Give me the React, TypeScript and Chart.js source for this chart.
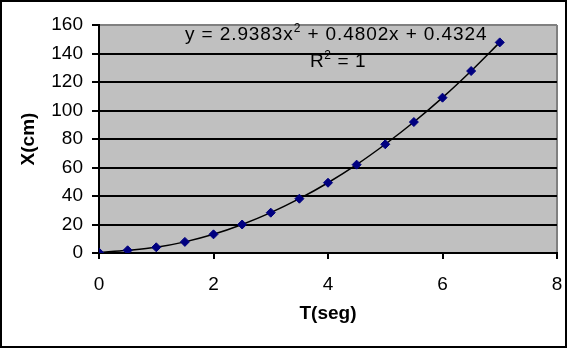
import React, { useEffect, useRef } from "react";
import { Chart, registerables } from "chart.js";

Chart.register(...registerables);

const tValues = [0, 0.5, 1, 1.5, 2, 2.5, 3, 3.5, 4, 4.5, 5, 5.5, 6, 6.5, 7];
const xValues = [0.4, 1.9, 4.0, 7.8, 13.1, 20.0, 28.3, 38.1, 49.3, 62.0, 76.3, 91.9, 109.0, 127.7, 147.8];
const xAxisTitle = "T(seg)";
const yAxisTitle = "X(cm)";
const eqParts = ["y = 2.9383x", "2", " + 0.4802x + 0.4324"];
const r2Parts = ["R", "2", " = 1"];

const FONT = "'Liberation Sans', Arial, sans-serif";

const decorPlugin = {
  id: "decor",
  beforeDraw(chart: any) {
    const { ctx, chartArea } = chart;
    ctx.save();
    ctx.fillStyle = "#ffffff";
    ctx.fillRect(0, 0, chart.width, chart.height);
    ctx.fillStyle = "#C0C0C0";
    ctx.fillRect(chartArea.left, chartArea.top, chartArea.right - chartArea.left, chartArea.bottom - chartArea.top);
    ctx.strokeStyle = "#808080";
    ctx.lineWidth = 2;
    ctx.beginPath();
    ctx.moveTo(chartArea.right, chartArea.top);
    ctx.lineTo(chartArea.right, chartArea.bottom);
    ctx.stroke();
    ctx.restore();
  },
  afterDraw(chart: any) {
    const { ctx } = chart;
    ctx.save();
    ctx.strokeStyle = "#000";
    ctx.lineWidth = 2;
    ctx.strokeRect(1, 1, chart.width - 2, chart.height - 2);

    const drawSup = (parts: string[], x: number, y: number, spacing: string) => {
      ctx.fillStyle = "#000";
      ctx.textBaseline = "alphabetic";
      ctx.textAlign = "left";
      (ctx as any).letterSpacing = spacing;
      ctx.font = `19px ${FONT}`;
      ctx.fillText(parts[0], x, y);
      let cx = x + ctx.measureText(parts[0]).width;
      ctx.font = `12px ${FONT}`;
      ctx.fillText(parts[1], cx, y - 8);
      cx += ctx.measureText(parts[1]).width;
      ctx.font = `19px ${FONT}`;
      ctx.fillText(parts[2], cx, y);
      (ctx as any).letterSpacing = "0px";
    };
    drawSup(eqParts, 185, 40, "0.9px");
    drawSup(r2Parts, 310, 67, "0.6px");
    ctx.restore();
  },
};

export default function App() {
  const ref = useRef<HTMLCanvasElement>(null);
  useEffect(() => {
    if (!ref.current) return;
    const chart = new Chart(ref.current, {
      type: "line",
      data: {
        datasets: [
          {
            data: tValues.map((t, i) => ({ x: t, y: xValues[i] })),
            borderColor: "#000000",
            borderWidth: 1.5,
            cubicInterpolationMode: "monotone",
            pointStyle: "rectRot",
            pointRadius: 4.5,
            pointBackgroundColor: "#000080",
            pointBorderColor: "#000080",
            pointBorderWidth: 1,
            fill: false,
          },
        ],
      },
      options: {
        responsive: false,
        animation: false,
        layout: { padding: { left: 0, top: 25, right: 0, bottom: 0 } },
        plugins: { legend: { display: false }, tooltip: { enabled: false } },
        scales: {
          x: {
            type: "linear",
            min: 0,
            max: 8,
            afterFit: (s: any) => { s.height = 95; s.paddingRight = 10; },
            ticks: { stepSize: 2, color: "#000", padding: 14, font: { family: FONT, size: 19 } },
            grid: { drawOnChartArea: false, drawTicks: true, tickLength: 6, tickColor: "#000", tickWidth: 2, color: "#000", lineWidth: 2 },
            border: { display: true, color: "#000", width: 2 },
            title: { display: true, text: xAxisTitle, color: "#000", font: { family: FONT, size: 19, weight: "bold" }, padding: { top: 0, bottom: 23 } },
          },
          y: {
            type: "linear",
            min: 0,
            max: 160,
            afterFit: (s: any) => { s.width = 99; },
            ticks: { stepSize: 20, color: "#000", padding: 9, font: { family: FONT, size: 19 } },
            grid: {
              drawOnChartArea: true,
              drawTicks: true,
              tickLength: 7,
              tickColor: "#000",
              tickWidth: 2,
              color: (c: any) => (c.tick && c.tick.value === 160 ? "#808080" : "#000"),
              lineWidth: 2,
            },
            border: { display: true, color: "#000", width: 2 },
            title: { display: true, text: yAxisTitle, color: "#000", font: { family: FONT, size: 19, weight: "bold" }, padding: { top: 17, bottom: 0 } },
          },
        },
      },
      plugins: [decorPlugin],
    } as any);
    return () => chart.destroy();
  }, []);
  return (
    <div style={{ position: "fixed", left: 0, top: 0, width: 567, height: 348 }}>
      <canvas ref={ref} width={567} height={348} style={{ display: "block" }} />
    </div>
  );
}
